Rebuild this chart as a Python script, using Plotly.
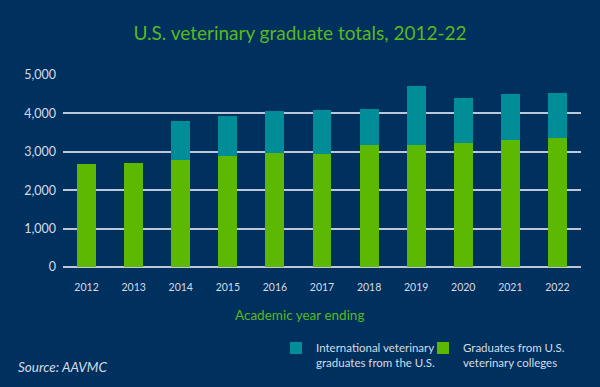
import plotly.graph_objects as go

years = ["2012", "2013", "2014", "2015", "2016", "2017", "2018", "2019", "2020", "2021", "2022"]
us_grads = [2690, 2710, 2775, 2895, 2965, 2940, 3180, 3180, 3240, 3310, 3355]
intl_grads = [0, 0, 1040, 1050, 1100, 1160, 935, 1545, 1170, 1195, 1185]
y_ticks = [0, 1000, 2000, 3000, 4000, 5000]
y_tick_labels = ["0", "1,000", "2,000", "3,000", "4,000", "5,000"]

BG = "#00305e"
GREEN = "#5cb800"
TEAL = "#008d98"
FONT = "Lato"
TXT = "#d5dce6"

fig = go.Figure()
fig.add_trace(go.Bar(x=years, y=us_grads, name="Graduates from U.S.<br>veterinary colleges",
                     marker=dict(color=GREEN, line=dict(width=0)), legend="legend2"))
fig.add_trace(go.Bar(x=years, y=intl_grads, name="International veterinary<br>graduates from the U.S.",
                     marker=dict(color=TEAL, line=dict(width=0)), legend="legend"))

leg_common = dict(orientation="v", yanchor="top", xanchor="left", valign="top",
                  font=dict(family=FONT, size=11.5, color=TXT),
                  bgcolor="rgba(0,0,0,0)", itemwidth=30)

fig.update_layout(
    width=600, height=387,
    barmode="stack", bargap=0.6,
    paper_bgcolor=BG, plot_bgcolor=BG,
    margin=dict(l=63, r=19, t=75, b=120, autoexpand=False),
    font=dict(family=FONT, color=TXT, size=12),
    title=dict(text="U.S. veterinary graduate totals, 2012-22", x=0.5, xanchor="center",
               xref="container", y=1 - 33/387, yref="container", yanchor="middle",
               font=dict(family=FONT, size=19, color="#5ab81e")),
    showlegend=True,
    legend=dict(x=(276 - 63) / 518, y=(267 - 334) / 192, **leg_common),
    legend2=dict(x=(423 - 63) / 518, y=(267 - 334) / 192, **leg_common),
    xaxis=dict(showgrid=False, showline=False, ticks="", ticklabelstandoff=12,
               tickfont=dict(size=10.5, color=TXT)),
    yaxis=dict(range=[0, 5000], tickvals=y_ticks, ticktext=y_tick_labels,
               showgrid=True, gridcolor="#bcc8d8", gridwidth=1.5,
               zeroline=True, zerolinecolor="#bcc8d8", zerolinewidth=1.5,
               ticks="", ticklabelstandoff=6, showline=False,
               tickfont=dict(size=12.5, color=TXT)),
    annotations=[
        dict(text="Academic year ending", xref="paper", yref="paper", x=(299 - 63) / 518,
             y=(267 - 315) / 192,
             xanchor="center", yanchor="middle", showarrow=False,
             font=dict(family=FONT, size=13.5, color="#5ab81e")),
        dict(text="<i>Source: AAVMC</i>", xref="paper", yref="paper", x=(16 - 63) / 518,
             y=(267 - 367) / 192,
             xanchor="left", yanchor="middle", showarrow=False,
             font=dict(family=FONT, size=13.5, color=TXT)),
    ],
)

fig.write_html("out.html", config={"displayModeBar": False},
               post_script="document.body.style.margin='0';")
